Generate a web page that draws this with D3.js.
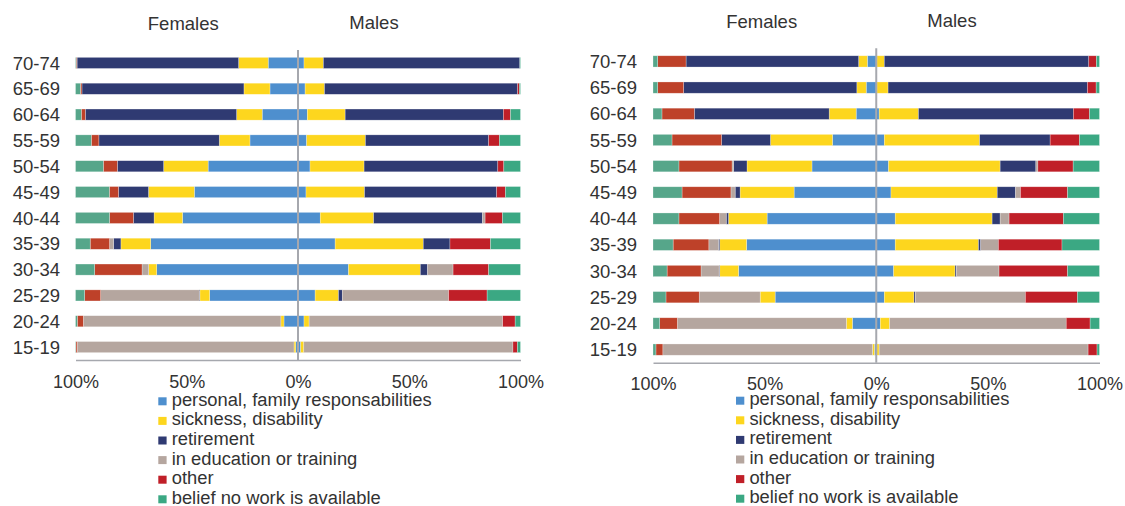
<!DOCTYPE html>
<html>
<head>
<meta charset="utf-8">
<script src="https://cdn.jsdelivr.net/npm/d3@7"></script>
<style>
  html, body { margin: 0; padding: 0; background: #fff; }
  svg { display: block; font-family: "Liberation Sans", Arial, sans-serif; }
</style>
</head>
<body>
<svg id="chart" width="1125" height="506"></svg>
<script>
// ---------- DATA ----------
const ageGroups = ["70-74","65-69","60-64","55-59","50-54","45-49","40-44","35-39","30-34","25-29","20-24","15-19"];
const reasons = ["personal, family responsabilities","sickness, disability","retirement","in education or training","other","belief no work is available"];
const tickValues = [-100, -50, 0, 50, 100];
const sexLabels = ["Females", "Males"];

// each row: [personal, sickness, retirement, education, other, belief] in %
const leftFemales = [
  [13.4, 13.3, 72.6, 0, 0.4, 0.3],
  [12.6, 11.7, 72.8, 0, 0.7, 2.2],
  [16.1, 11.5, 68.0, 0, 1.8, 2.6],
  [21.6, 13.8, 54.1, 0, 3.4, 7.1],
  [40.4, 20.0, 20.8, 0, 6.3, 12.5],
  [46.6, 20.6, 13.5, 0, 4.1, 15.2],
  [51.9, 12.8, 9.3, 0, 10.7, 15.3],
  [66.2, 13.4, 3.3, 1.8, 8.7, 6.6],
  [63.5, 3.6, 0, 3.0, 21.3, 8.6],
  [39.7, 4.4, 0.3, 44.3, 7.2, 4.1],
  [6.3, 1.4, 0, 88.8, 2.7, 0.8],
  [1.0, 0.8, 0, 97.4, 0.6, 0.2]
];
const leftMales = [
  [2.7, 8.7, 88.3, 0, 0, 0.3],
  [3.2, 8.7, 86.8, 0, 0.8, 0.5],
  [4.2, 17.0, 71.1, 0, 3.2, 4.5],
  [3.9, 26.4, 55.4, 0, 4.8, 9.5],
  [5.4, 24.3, 60.1, 0, 2.7, 7.5],
  [3.6, 26.3, 59.4, 0, 3.9, 6.8],
  [10.0, 24.0, 48.9, 1.2, 7.8, 8.1],
  [16.7, 39.6, 12.0, 0, 18.2, 13.5],
  [22.7, 32.3, 3.2, 11.5, 16.0, 14.3],
  [7.7, 10.5, 1.7, 47.8, 17.3, 15.0],
  [2.7, 2.3, 0, 87.0, 5.6, 2.4],
  [1.2, 1.4, 0, 94.0, 2.0, 1.4]
];
const rightFemales = [
  [4.0, 3.9, 77.3, 0, 12.7, 2.1],
  [4.5, 4.2, 77.6, 0, 11.6, 2.1],
  [9.0, 12.1, 60.4, 0, 14.5, 4.0],
  [19.6, 27.8, 21.9, 0, 22.2, 8.5],
  [28.8, 29.1, 6.0, 0.7, 23.8, 11.6],
  [36.8, 24.2, 2.2, 1.9, 21.9, 13.0],
  [48.9, 17.3, 1.0, 3.0, 18.2, 11.6],
  [58.1, 12.0, 0.6, 4.3, 16.0, 9.0],
  [61.7, 8.4, 0.3, 8.1, 15.2, 6.3],
  [45.3, 6.7, 0, 27.3, 14.9, 5.8],
  [10.7, 2.7, 0, 75.7, 7.9, 3.0],
  [0.8, 0.9, 0, 93.9, 3.1, 1.3]
];
const rightMales = [
  [0.3, 3.3, 91.6, 0, 3.4, 1.4],
  [0.3, 5.0, 89.3, 0, 3.9, 1.5],
  [1.3, 17.6, 69.4, 0, 7.2, 4.5],
  [3.6, 42.7, 31.6, 0, 13.1, 9.0],
  [5.5, 50.0, 16.0, 0.9, 15.8, 11.8],
  [6.6, 47.6, 8.2, 2.2, 21.1, 14.3],
  [8.5, 43.4, 3.6, 4.0, 24.3, 16.2],
  [8.5, 37.3, 1.0, 7.9, 28.5, 16.8],
  [7.8, 27.5, 0.6, 19.1, 30.7, 14.3],
  [3.6, 13.3, 0.6, 49.3, 23.3, 9.9],
  [1.8, 4.2, 0, 79.1, 10.7, 4.2],
  [0.3, 1.0, 0, 93.6, 4.0, 1.1]
];

// ---------- STYLE ----------
const femaleColors = ["#4E8FCE", "#FDD61E", "#2F3A72", "#B5A69F", "#BE4129", "#56A68A"];
const maleColors   = ["#4E8FCE", "#FDD61E", "#2F3A72", "#B5A69F", "#C01F28", "#3BA883"];
const textColor = "#333";
const axisColor = "#A6A8AE";

const panels = [
  { females: leftFemales, males: leftMales, x0: 75.5, x1: 520.5, yTop: 50, yBot: 360, labelX: 60,
    headF: [183.3, 30], headM: [374, 29], legX: 158.3, legY: 397.3 },
  { females: rightFemales, males: rightMales, x0: 653, x1: 1099.5, yTop: 48.3, yBot: 362.7, labelX: 637,
    headF: [761.7, 28.3], headM: [952, 26.7], legX: 736, legY: 396.7 }
];

const svg = d3.select("#chart");

panels.forEach(p => {
  const g = svg.append("g");
  const x = d3.scaleLinear().domain([-100, 100]).range([p.x0, p.x1]);
  const y = d3.scaleBand().domain(ageGroups).range([p.yTop, p.yBot]).paddingInner(0.57).paddingOuter(0.285);

  // stacked segments
  function segments(rows, sign, colors) {
    const out = [];
    rows.forEach((row, i) => {
      let cum = 0;
      row.forEach((v, k) => {
        if (v > 0) out.push({ age: ageGroups[i], a: sign * cum, b: sign * (cum + v), color: colors[k] });
        cum += v;
      });
    });
    return out;
  }
  const segs = segments(p.females, -1, femaleColors).concat(segments(p.males, 1, maleColors));

  g.selectAll("rect.seg").data(segs).join("rect")
    .attr("class", "seg")
    .attr("x", d => x(Math.min(d.a, d.b)))
    .attr("width", d => Math.abs(x(d.b) - x(d.a)))
    .attr("y", d => y(d.age))
    .attr("height", y.bandwidth())
    .attr("fill", d => d.color)
    .attr("stroke", "#ffffff")
    .attr("stroke-opacity", 0.45)
    .attr("stroke-width", 0.6);

  // category labels
  g.selectAll("text.cat").data(ageGroups).join("text")
    .attr("class", "cat")
    .attr("x", p.labelX)
    .attr("y", d => y(d) + y.bandwidth() / 2)
    .attr("dy", "0.36em")
    .attr("text-anchor", "end")
    .attr("font-size", 18.5)
    .attr("fill", textColor)
    .text(d => d);

  // centre line
  g.append("line")
    .attr("x1", x(0)).attr("x2", x(0))
    .attr("y1", p.yTop).attr("y2", p.yBot)
    .attr("stroke", axisColor).attr("stroke-width", 2);

  // bottom axis
  const axis = d3.axisBottom(x)
    .tickValues(tickValues)
    .tickSize(0)
    .tickPadding(15)
    .tickFormat(d => Math.abs(d) + "%");
  const ag = g.append("g").attr("transform", `translate(0,${p.yBot})`).call(axis);
  ag.select(".domain").attr("stroke", axisColor).attr("stroke-width", 1.6);
  ag.selectAll("text").attr("font-size", 18).attr("fill", textColor)
    .attr("font-family", '"Liberation Sans", Arial, sans-serif');

  // headers
  g.append("text").attr("x", p.headF[0]).attr("y", p.headF[1]).attr("text-anchor", "middle")
    .attr("font-size", 18.5).attr("fill", textColor).text(sexLabels[0]);
  g.append("text").attr("x", p.headM[0]).attr("y", p.headM[1]).attr("text-anchor", "middle")
    .attr("font-size", 18.5).attr("fill", textColor).text(sexLabels[1]);

  // legend
  const leg = g.append("g").attr("transform", `translate(${p.legX},${p.legY})`);
  const items = leg.selectAll("g").data(reasons).join("g")
    .attr("transform", (d, i) => `translate(0,${i * 19.6})`);
  items.append("rect").attr("width", 8.3).attr("height", 8)
    .attr("fill", (d, i) => maleColors[i]);
  items.append("text").attr("x", 13.4).attr("y", 8.5)
    .attr("font-size", 18.35).attr("fill", textColor).text(d => d);
});
</script>
</body>
</html>
